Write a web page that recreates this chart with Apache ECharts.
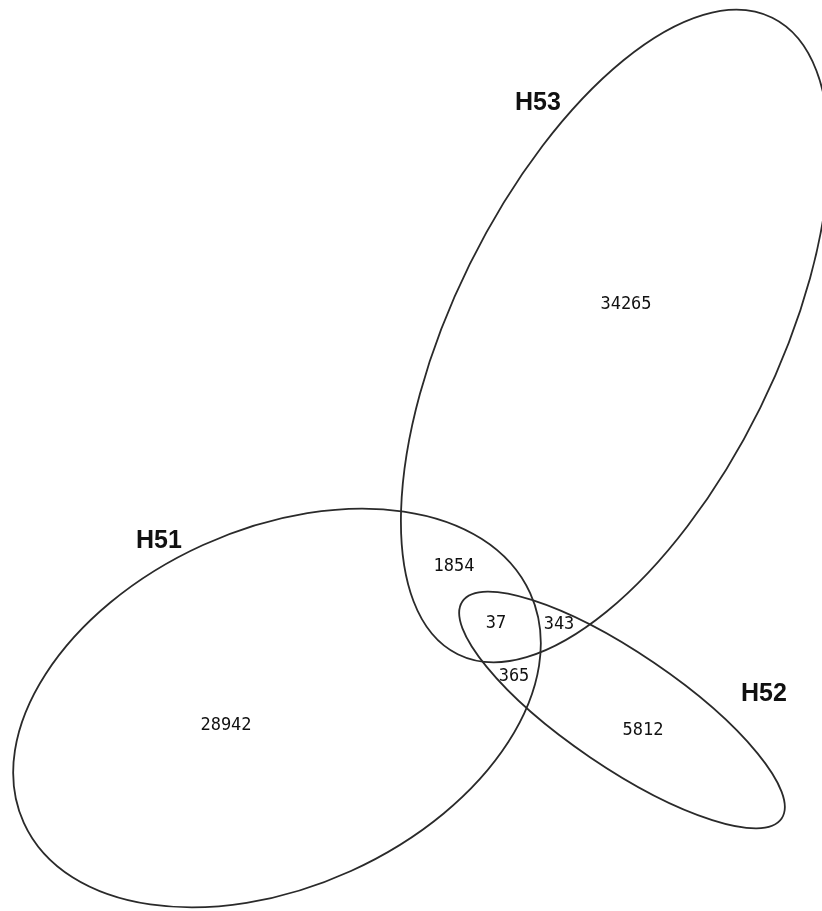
<!DOCTYPE html>
<html>
<head>
<meta charset="utf-8">
<script src="https://cdn.jsdelivr.net/npm/echarts@6/dist/echarts.min.js"></script>
<style>
  html, body { margin: 0; padding: 0; background: #fff; }
  #chart { width: 822px; height: 911px; }
</style>
</head>
<body>
<div id="chart"></div>
<script>
// sets and their ellipses (plot units, y grows downward)
var setNames = ['H51', 'H52', 'H53'];
var ellipseCx = [277, 622, 615];
var ellipseCy = [708, 710, 336];
var ellipseRx = [278, 193, 355];
var ellipseRy = [179, 57, 162];
var ellipseAngle = [24.4, -34.2, 63.7];

// set name labels
var nameX = [159, 764, 538];
var nameY = [541, 694, 103];

// region counts
var regionCounts = ['28942', '5812', '34265', '1854', '365', '343', '37'];
var regionX = [226, 643, 626, 454, 514, 559, 496];
var regionY = [726, 731, 305, 567, 677, 625, 624];

var ellipseData = setNames.map(function (n, i) {
    return [ellipseCx[i], ellipseCy[i], ellipseRx[i], ellipseRy[i], ellipseAngle[i]];
});
var nameData = setNames.map(function (n, i) {
    return [nameX[i], nameY[i], n];
});
var countData = regionCounts.map(function (c, i) {
    return [regionX[i], regionY[i], c];
});

function textItem(font) {
    return function (params, api) {
        var p = api.coord([api.value(0), api.value(1)]);
        return {
            type: 'text',
            x: p[0],
            y: p[1],
            style: {
                text: String(api.value(2)),
                font: font,
                fill: '#111',
                align: 'center',
                verticalAlign: 'middle'
            }
        };
    };
}

var chart = echarts.init(document.getElementById('chart'));

var option = {
    animation: false,
    grid: { left: 0, right: 0, top: 0, bottom: 0 },
    xAxis: { type: 'value', min: 0, max: 822, show: false },
    yAxis: { type: 'value', min: 0, max: 911, inverse: true, show: false },
    series: [
        {
            type: 'custom',
            clip: false,
            silent: true,
            data: ellipseData,
            renderItem: function (params, api) {
                var c = api.coord([api.value(0), api.value(1)]);
                var s = api.size([api.value(2), api.value(3)]);
                return {
                    type: 'ellipse',
                    x: c[0],
                    y: c[1],
                    rotation: api.value(4) * Math.PI / 180,
                    shape: { cx: 0, cy: 0, rx: s[0], ry: s[1] },
                    style: { fill: 'none', stroke: '#2a2a2a', lineWidth: 1.8 }
                };
            }
        },
        {
            type: 'custom',
            silent: true,
            dimensions: ['x', 'y', { name: 'label', type: 'ordinal' }],
            data: nameData,
            renderItem: textItem('bold 25px "Liberation Sans"')
        },
        {
            type: 'custom',
            silent: true,
            dimensions: ['x', 'y', { name: 'label', type: 'ordinal' }],
            data: countData,
            renderItem: textItem('17px "DejaVu Sans Mono"')
        }
    ]
};

chart.setOption(option);
</script>
</body>
</html>
